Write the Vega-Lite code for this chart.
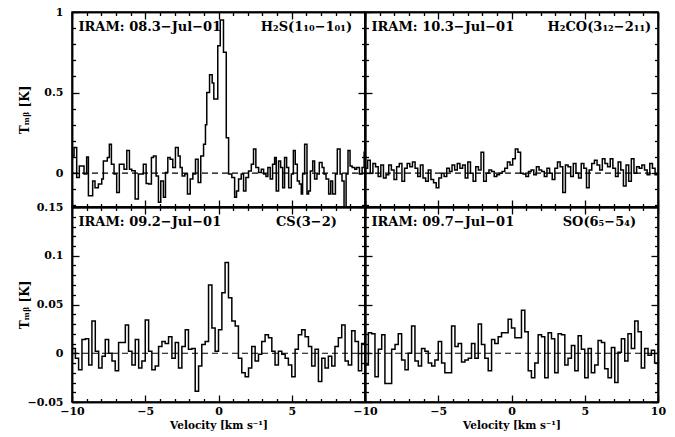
{
  "$schema": "https://vega.github.io/schema/vega-lite/v6.json",
  "padding": {"left": 17, "top": 5, "right": 5, "bottom": 5},
  "config": {
    "view": {"stroke": "black", "strokeWidth": 1.5},
    "axis": {"grid": false, "domainColor": "black", "domainWidth": 1.5, "tickColor": "black", "tickWidth": 1.3,
      "labelFont": "DejaVu Serif", "labelFontWeight": "bold", "labelFontSize": 11, "labelColor": "black",
      "labelFlush": false, "labelOverlap": false, "labelBound": false,
      "titleFont": "DejaVu Serif", "titleFontWeight": "bold", "titleFontSize": 10.5, "titleColor": "black"},
    "text": {"font": "DejaVu Serif", "fontWeight": "bold", "fontSize": 13, "color": "black"}
  },
  "datasets": {
    "h2s": [
      {"v": -10.0, "T": 0.107}, {"v": -9.86, "T": 0.159}, {"v": -9.68, "T": -0.027}, {"v": -9.5, "T": 0.045},
      {"v": -9.18, "T": -0.006}, {"v": -9.0, "T": 0.1}, {"v": -8.88, "T": -0.14}, {"v": -8.59, "T": -0.048},
      {"v": -8.43, "T": -0.09}, {"v": -8.2, "T": -0.068}, {"v": -7.97, "T": -0.036}, {"v": -7.86, "T": 0.076},
      {"v": -7.59, "T": 0.097}, {"v": -7.45, "T": 0.18}, {"v": -7.31, "T": 0.056}, {"v": -7.13, "T": -0.006},
      {"v": -6.95, "T": -0.12}, {"v": -6.77, "T": 0.056}, {"v": -6.45, "T": 0.025}, {"v": -6.26, "T": 0.14},
      {"v": -6.08, "T": 0.025}, {"v": -5.92, "T": 0.015}, {"v": -5.69, "T": -0.16}, {"v": -5.47, "T": -0.006},
      {"v": -5.13, "T": 0.056}, {"v": -4.94, "T": -0.064}, {"v": -4.76, "T": -0.068}, {"v": -4.58, "T": 0.097},
      {"v": -4.44, "T": 0.107}, {"v": -4.26, "T": -0.017}, {"v": -4.1, "T": -0.18}, {"v": -3.94, "T": -0.048},
      {"v": -3.76, "T": -0.15}, {"v": -3.62, "T": 0.004}, {"v": -3.46, "T": 0.097}, {"v": -3.3, "T": 0.087},
      {"v": -3.12, "T": 0.035}, {"v": -2.94, "T": 0.159}, {"v": -2.75, "T": 0.107}, {"v": -2.62, "T": 0.035},
      {"v": -2.48, "T": -0.017}, {"v": -2.3, "T": -0.006}, {"v": -2.12, "T": -0.13}, {"v": -1.93, "T": -0.037},
      {"v": -1.75, "T": -0.006}, {"v": -1.57, "T": 0.087}, {"v": -1.39, "T": -0.058}, {"v": -1.21, "T": 0.107},
      {"v": -1.02, "T": 0.18}, {"v": -0.89, "T": 0.3}, {"v": -0.8, "T": 0.5}, {"v": -0.61, "T": 0.61},
      {"v": -0.43, "T": 0.56}, {"v": -0.32, "T": 0.46}, {"v": -0.05, "T": 0.79}, {"v": 0.12, "T": 0.95},
      {"v": 0.34, "T": 0.75}, {"v": 0.53, "T": 0.22}, {"v": 0.69, "T": -0.006}, {"v": 0.91, "T": -0.027},
      {"v": 1.1, "T": -0.15}, {"v": 1.23, "T": -0.11}, {"v": 1.37, "T": -0.037}, {"v": 1.55, "T": -0.006},
      {"v": 1.71, "T": -0.11}, {"v": 1.87, "T": -0.027}, {"v": 2.05, "T": 0.014}, {"v": 2.24, "T": 0.056},
      {"v": 2.39, "T": 0.15}, {"v": 2.55, "T": 0.035}, {"v": 2.74, "T": 0.004}, {"v": 2.92, "T": 0.025},
      {"v": 3.08, "T": -0.006}, {"v": 3.24, "T": -0.02}, {"v": 3.37, "T": 0.035}, {"v": 3.53, "T": -0.037},
      {"v": 3.69, "T": 0.056}, {"v": 3.83, "T": 0.097}, {"v": 3.94, "T": -0.11}, {"v": 4.1, "T": 0.076},
      {"v": 4.24, "T": 0.035}, {"v": 4.38, "T": -0.09}, {"v": 4.51, "T": 0.097}, {"v": 4.65, "T": 0.035},
      {"v": 4.79, "T": -0.09}, {"v": 4.97, "T": -0.006}, {"v": 5.11, "T": 0.14}, {"v": 5.24, "T": 0.056},
      {"v": 5.38, "T": -0.048}, {"v": 5.52, "T": -0.068}, {"v": 5.65, "T": -0.13}, {"v": 5.74, "T": -0.006},
      {"v": 5.88, "T": 0.18}, {"v": 6.04, "T": -0.13}, {"v": 6.15, "T": -0.11}, {"v": 6.27, "T": 0.014},
      {"v": 6.43, "T": 0.076}, {"v": 6.56, "T": -0.037}, {"v": 6.72, "T": -0.006}, {"v": 6.88, "T": 0.066},
      {"v": 7.07, "T": 0.035}, {"v": 7.2, "T": -0.006}, {"v": 7.34, "T": -0.037}, {"v": 7.52, "T": -0.13},
      {"v": 7.66, "T": -0.048}, {"v": 7.79, "T": -0.13}, {"v": 7.98, "T": -0.006}, {"v": 8.11, "T": 0.15},
      {"v": 8.3, "T": -0.006}, {"v": 8.43, "T": -0.048}, {"v": 8.57, "T": -0.22}, {"v": 8.71, "T": -0.006},
      {"v": 8.84, "T": 0.14}, {"v": 8.98, "T": 0.045}, {"v": 9.12, "T": 0.035}, {"v": 9.3, "T": 0.025},
      {"v": 9.43, "T": 0.035}, {"v": 9.62, "T": -0.006}, {"v": 9.8, "T": 0.035}, {"v": 9.94, "T": 0.13},
      {"v": 10.0, "T": 0.13}
    ],
    "h2co": [
      {"v": -10.0, "T": 0.03}, {"v": -9.82, "T": 0.08}, {"v": -9.64, "T": 0.0}, {"v": -9.46, "T": 0.06},
      {"v": -9.28, "T": 0.04}, {"v": -9.1, "T": -0.02}, {"v": -8.92, "T": 0.05}, {"v": -8.74, "T": -0.03},
      {"v": -8.56, "T": -0.01}, {"v": -8.38, "T": 0.05}, {"v": -8.2, "T": 0.02}, {"v": -8.02, "T": -0.04},
      {"v": -7.84, "T": 0.04}, {"v": -7.66, "T": 0.06}, {"v": -7.48, "T": -0.05}, {"v": -7.3, "T": 0.03},
      {"v": -7.12, "T": 0.06}, {"v": -6.94, "T": 0.04}, {"v": -6.76, "T": 0.07}, {"v": -6.58, "T": 0.03},
      {"v": -6.4, "T": -0.02}, {"v": -6.22, "T": 0.05}, {"v": -6.04, "T": -0.03}, {"v": -5.86, "T": -0.05},
      {"v": -5.68, "T": 0.02}, {"v": -5.5, "T": -0.04}, {"v": -5.32, "T": -0.06}, {"v": -5.14, "T": -0.09},
      {"v": -4.96, "T": -0.03}, {"v": -4.78, "T": 0.0}, {"v": -4.6, "T": -0.02}, {"v": -4.42, "T": 0.03},
      {"v": -4.24, "T": 0.01}, {"v": -4.06, "T": 0.05}, {"v": -3.88, "T": 0.02}, {"v": -3.7, "T": 0.06},
      {"v": -3.52, "T": 0.03}, {"v": -3.34, "T": 0.05}, {"v": -3.16, "T": -0.03}, {"v": -2.98, "T": 0.07},
      {"v": -2.8, "T": 0.0}, {"v": -2.62, "T": -0.05}, {"v": -2.44, "T": 0.04}, {"v": -2.26, "T": 0.02},
      {"v": -2.08, "T": 0.13}, {"v": -1.9, "T": -0.05}, {"v": -1.72, "T": 0.0}, {"v": -1.54, "T": 0.02},
      {"v": -1.36, "T": 0.01}, {"v": -1.18, "T": -0.02}, {"v": -1.0, "T": -0.01}, {"v": -0.82, "T": 0.0},
      {"v": -0.64, "T": 0.01}, {"v": -0.46, "T": 0.03}, {"v": -0.28, "T": 0.07}, {"v": -0.1, "T": 0.05},
      {"v": 0.08, "T": 0.09}, {"v": 0.26, "T": 0.15}, {"v": 0.44, "T": 0.13}, {"v": 0.62, "T": 0.0},
      {"v": 0.8, "T": -0.005}, {"v": 0.98, "T": -0.02}, {"v": 1.16, "T": 0.01}, {"v": 1.34, "T": 0.02},
      {"v": 1.52, "T": -0.01}, {"v": 1.7, "T": 0.04}, {"v": 1.88, "T": 0.02}, {"v": 2.06, "T": 0.01},
      {"v": 2.24, "T": -0.02}, {"v": 2.42, "T": 0.03}, {"v": 2.6, "T": 0.0}, {"v": 2.78, "T": -0.04},
      {"v": 2.96, "T": 0.03}, {"v": 3.14, "T": 0.07}, {"v": 3.32, "T": 0.04}, {"v": 3.5, "T": -0.12},
      {"v": 3.68, "T": 0.05}, {"v": 3.86, "T": 0.04}, {"v": 4.04, "T": -0.02}, {"v": 4.22, "T": 0.06},
      {"v": 4.4, "T": 0.0}, {"v": 4.58, "T": -0.03}, {"v": 4.76, "T": 0.06}, {"v": 4.94, "T": 0.03},
      {"v": 5.12, "T": -0.09}, {"v": 5.3, "T": 0.02}, {"v": 5.48, "T": 0.06}, {"v": 5.66, "T": 0.08},
      {"v": 5.84, "T": 0.05}, {"v": 6.02, "T": 0.02}, {"v": 6.2, "T": 0.09}, {"v": 6.38, "T": 0.06},
      {"v": 6.56, "T": 0.04}, {"v": 6.74, "T": 0.09}, {"v": 6.92, "T": 0.03}, {"v": 7.1, "T": -0.02},
      {"v": 7.28, "T": 0.07}, {"v": 7.46, "T": 0.02}, {"v": 7.64, "T": -0.08}, {"v": 7.82, "T": 0.05},
      {"v": 8.0, "T": -0.05}, {"v": 8.18, "T": 0.09}, {"v": 8.36, "T": 0.0}, {"v": 8.54, "T": 0.04},
      {"v": 8.72, "T": 0.03}, {"v": 8.9, "T": 0.05}, {"v": 9.08, "T": 0.02}, {"v": 9.26, "T": -0.01},
      {"v": 9.44, "T": 0.06}, {"v": 9.62, "T": 0.03}, {"v": 9.8, "T": -0.01}, {"v": 10.0, "T": -0.01}
    ],
    "cs": [
      {"v": -10.0, "T": 0.005}, {"v": -9.77, "T": -0.005}, {"v": -9.55, "T": -0.017}, {"v": -9.32, "T": 0.014},
      {"v": -9.09, "T": 0.015}, {"v": -8.86, "T": -0.012}, {"v": -8.64, "T": 0.033}, {"v": -8.41, "T": 0.002},
      {"v": -8.18, "T": -0.015}, {"v": -7.95, "T": -0.003}, {"v": -7.73, "T": 0.014}, {"v": -7.5, "T": 0.0},
      {"v": -7.27, "T": -0.008}, {"v": -7.05, "T": -0.018}, {"v": -6.82, "T": 0.011}, {"v": -6.59, "T": 0.011},
      {"v": -6.36, "T": 0.029}, {"v": -6.14, "T": 0.002}, {"v": -5.91, "T": -0.012}, {"v": -5.68, "T": 0.014},
      {"v": -5.45, "T": -0.015}, {"v": -5.23, "T": -0.008}, {"v": -5.0, "T": 0.034}, {"v": -4.77, "T": 0.002},
      {"v": -4.55, "T": -0.017}, {"v": -4.32, "T": -0.013}, {"v": -4.09, "T": 0.007}, {"v": -3.86, "T": 0.012},
      {"v": -3.64, "T": 0.01}, {"v": -3.41, "T": 0.017}, {"v": -3.18, "T": -0.005}, {"v": -2.95, "T": 0.011},
      {"v": -2.73, "T": -0.015}, {"v": -2.5, "T": 0.007}, {"v": -2.27, "T": 0.024}, {"v": -2.05, "T": 0.004},
      {"v": -1.82, "T": 0.005}, {"v": -1.59, "T": -0.039}, {"v": -1.36, "T": -0.013}, {"v": -1.14, "T": 0.009},
      {"v": -0.91, "T": 0.012}, {"v": -0.68, "T": 0.07}, {"v": -0.45, "T": 0.026}, {"v": -0.23, "T": 0.002},
      {"v": 0.0, "T": 0.024}, {"v": 0.23, "T": 0.062}, {"v": 0.45, "T": 0.093}, {"v": 0.68, "T": 0.057},
      {"v": 0.91, "T": 0.033}, {"v": 1.14, "T": 0.028}, {"v": 1.36, "T": -0.005}, {"v": 1.59, "T": -0.02},
      {"v": 1.82, "T": -0.024}, {"v": 2.05, "T": -0.015}, {"v": 2.27, "T": 0.007}, {"v": 2.5, "T": -0.008},
      {"v": 2.73, "T": -0.001}, {"v": 2.95, "T": 0.012}, {"v": 3.18, "T": 0.019}, {"v": 3.41, "T": 0.016},
      {"v": 3.64, "T": 0.002}, {"v": 3.86, "T": -0.012}, {"v": 4.09, "T": 0.002}, {"v": 4.32, "T": -0.001},
      {"v": 4.55, "T": -0.005}, {"v": 4.77, "T": -0.012}, {"v": 5.0, "T": -0.024}, {"v": 5.23, "T": 0.004},
      {"v": 5.45, "T": 0.019}, {"v": 5.68, "T": 0.024}, {"v": 5.91, "T": 0.017}, {"v": 6.14, "T": 0.007},
      {"v": 6.36, "T": -0.013}, {"v": 6.59, "T": 0.004}, {"v": 6.82, "T": -0.029}, {"v": 7.05, "T": -0.005},
      {"v": 7.27, "T": -0.015}, {"v": 7.5, "T": -0.003}, {"v": 7.73, "T": -0.013}, {"v": 7.95, "T": 0.007},
      {"v": 8.18, "T": 0.016}, {"v": 8.41, "T": 0.029}, {"v": 8.64, "T": -0.008}, {"v": 8.86, "T": -0.012},
      {"v": 9.09, "T": 0.023}, {"v": 9.32, "T": 0.012}, {"v": 9.55, "T": -0.018}, {"v": 9.77, "T": 0.01},
      {"v": 10.0, "T": 0.01}
    ],
    "so": [
      {"v": -10.0, "T": -0.012}, {"v": -9.77, "T": 0.021}, {"v": -9.55, "T": 0.02}, {"v": -9.32, "T": -0.024},
      {"v": -9.09, "T": 0.004}, {"v": -8.86, "T": 0.019}, {"v": -8.64, "T": -0.031}, {"v": -8.41, "T": -0.031},
      {"v": -8.18, "T": 0.004}, {"v": -7.95, "T": 0.009}, {"v": -7.73, "T": 0.02}, {"v": -7.5, "T": -0.007},
      {"v": -7.27, "T": -0.017}, {"v": -7.05, "T": 0.0}, {"v": -6.82, "T": 0.028}, {"v": -6.59, "T": -0.008},
      {"v": -6.36, "T": -0.013}, {"v": -6.14, "T": 0.005}, {"v": -5.91, "T": 0.002}, {"v": -5.68, "T": -0.01},
      {"v": -5.45, "T": -0.013}, {"v": -5.23, "T": -0.007}, {"v": -5.0, "T": 0.012}, {"v": -4.77, "T": -0.01},
      {"v": -4.55, "T": -0.02}, {"v": -4.32, "T": -0.02}, {"v": -4.09, "T": 0.028}, {"v": -3.86, "T": 0.007},
      {"v": -3.64, "T": 0.01}, {"v": -3.41, "T": -0.009}, {"v": -3.18, "T": -0.007}, {"v": -2.95, "T": -0.005},
      {"v": -2.73, "T": 0.01}, {"v": -2.5, "T": -0.005}, {"v": -2.27, "T": 0.03}, {"v": -2.05, "T": 0.009},
      {"v": -1.82, "T": -0.005}, {"v": -1.59, "T": -0.018}, {"v": -1.36, "T": 0.014}, {"v": -1.14, "T": 0.01},
      {"v": -0.91, "T": 0.017}, {"v": -0.68, "T": 0.021}, {"v": -0.45, "T": 0.021}, {"v": -0.23, "T": 0.035},
      {"v": 0.0, "T": 0.026}, {"v": 0.23, "T": 0.016}, {"v": 0.45, "T": 0.016}, {"v": 0.68, "T": 0.044},
      {"v": 0.91, "T": 0.022}, {"v": 1.14, "T": -0.018}, {"v": 1.36, "T": -0.025}, {"v": 1.59, "T": -0.01},
      {"v": 1.82, "T": 0.019}, {"v": 2.05, "T": 0.017}, {"v": 2.27, "T": -0.025}, {"v": 2.5, "T": 0.021},
      {"v": 2.73, "T": 0.015}, {"v": 2.95, "T": -0.02}, {"v": 3.18, "T": 0.02}, {"v": 3.41, "T": 0.019},
      {"v": 3.64, "T": -0.012}, {"v": 3.86, "T": -0.005}, {"v": 4.09, "T": 0.008}, {"v": 4.32, "T": -0.018},
      {"v": 4.55, "T": 0.018}, {"v": 4.77, "T": 0.004}, {"v": 5.0, "T": -0.025}, {"v": 5.23, "T": 0.005},
      {"v": 5.45, "T": -0.02}, {"v": 5.68, "T": -0.012}, {"v": 5.91, "T": 0.013}, {"v": 6.14, "T": 0.011},
      {"v": 6.36, "T": -0.016}, {"v": 6.59, "T": -0.025}, {"v": 6.82, "T": 0.006}, {"v": 7.05, "T": -0.03},
      {"v": 7.27, "T": 0.001}, {"v": 7.5, "T": 0.015}, {"v": 7.73, "T": -0.008}, {"v": 7.95, "T": 0.02},
      {"v": 8.18, "T": 0.005}, {"v": 8.41, "T": 0.033}, {"v": 8.64, "T": 0.022}, {"v": 8.86, "T": -0.015},
      {"v": 9.09, "T": 0.005}, {"v": 9.32, "T": -0.002}, {"v": 9.55, "T": 0.003}, {"v": 9.77, "T": -0.01},
      {"v": 10.0, "T": -0.01}
    ]
  },
  "columns": 2,
  "spacing": 0,
  "bounds": "flush",
  "concat": [
    {
      "width": 293, "height": 195,
      "layer": [
        {"data": {"name": "h2s"},
         "mark": {"type": "line", "interpolate": "step-after", "color": "black", "strokeWidth": 1.5, "clip": true},
         "encoding": {
           "x": {"field": "v", "type": "quantitative", "scale": {"domain": [-10, 10], "nice": false, "zero": false},
                 "axis": {"orient": "bottom", "values": [-10, -5, 0, 5, 10], "labels": false, "title": null, "tickSize": -7}},
           "y": {"field": "T", "type": "quantitative", "scale": {"domain": [-0.21, 1], "nice": false, "zero": false},
                 "axis": {"orient": "left", "values": [0, 0.5, 1], "format": ".1~f", "title": "Tₘᵦ [K]", "titleFontSize": 12, "titlePadding": 5, "minExtent": 36, "maxExtent": 36, "tickSize": -7, "labelPadding": 16}}}},
        {"data": {"values": [{}]},
         "mark": {"type": "rule", "color": "black", "strokeWidth": 1.2, "strokeDash": [6, 4]},
         "encoding": {
           "x": {"datum": -10, "type": "quantitative", "axis": {"orient": "bottom", "values": [-9, -8, -7, -6, -4, -3, -2, -1, 1, 2, 3, 4, 6, 7, 8, 9], "labels": false, "title": null, "tickSize": -3.5}},
           "x2": {"datum": 10},
           "y": {"datum": 0, "type": "quantitative", "axis": {"orient": "left", "values": [-0.2, -0.1, 0.1, 0.2, 0.3, 0.4, 0.6, 0.7, 0.8, 0.9], "labels": false, "title": null, "tickSize": -3.5}}}},
        {"data": {"values": [{}]},
         "mark": {"type": "text", "align": "left", "baseline": "middle"},
         "encoding": {
           "text": {"value": "IRAM: 08.3−Jul−01"},
           "x": {"datum": -9.56, "type": "quantitative", "axis": {"orient": "top", "values": [-10, -5, 0, 5, 10], "labels": false, "title": null, "tickSize": -7}},
           "y": {"datum": 0.907, "type": "quantitative", "axis": {"orient": "right", "values": [0, 0.5, 1], "labels": false, "title": null, "tickSize": -7}}}},
        {"data": {"values": [{}]},
         "mark": {"type": "text", "align": "center", "baseline": "middle"},
         "encoding": {
           "text": {"value": "H₂S(1₁₀−1₀₁)"},
           "x": {"datum": 6.0, "type": "quantitative", "axis": {"orient": "top", "values": [-9, -8, -7, -6, -4, -3, -2, -1, 1, 2, 3, 4, 6, 7, 8, 9], "labels": false, "title": null, "tickSize": -3.5}},
           "y": {"datum": 0.907, "type": "quantitative", "axis": {"orient": "right", "values": [-0.2, -0.1, 0.1, 0.2, 0.3, 0.4, 0.6, 0.7, 0.8, 0.9], "labels": false, "title": null, "tickSize": -3.5}}}}
      ],
      "resolve": {"axis": {"x": "independent", "y": "independent"}}
    },
    {
      "width": 293, "height": 195,
      "layer": [
        {"data": {"name": "h2co"},
         "mark": {"type": "line", "interpolate": "step-after", "color": "black", "strokeWidth": 1.5, "clip": true},
         "encoding": {
           "x": {"field": "v", "type": "quantitative", "scale": {"domain": [-10, 10], "nice": false, "zero": false},
                 "axis": {"orient": "bottom", "values": [-10, -5, 0, 5, 10], "labels": false, "title": null, "tickSize": -7}},
           "y": {"field": "T", "type": "quantitative", "scale": {"domain": [-0.21, 1], "nice": false, "zero": false},
                 "axis": {"orient": "left", "values": [0, 0.5, 1], "labels": false, "title": null, "tickSize": -7}}}},
        {"data": {"values": [{}]},
         "mark": {"type": "rule", "color": "black", "strokeWidth": 1.2, "strokeDash": [6, 4]},
         "encoding": {
           "x": {"datum": -10, "type": "quantitative", "axis": {"orient": "bottom", "values": [-9, -8, -7, -6, -4, -3, -2, -1, 1, 2, 3, 4, 6, 7, 8, 9], "labels": false, "title": null, "tickSize": -3.5}},
           "x2": {"datum": 10},
           "y": {"datum": 0, "type": "quantitative", "axis": {"orient": "left", "values": [-0.2, -0.1, 0.1, 0.2, 0.3, 0.4, 0.6, 0.7, 0.8, 0.9], "labels": false, "title": null, "tickSize": -3.5}}}},
        {"data": {"values": [{}]},
         "mark": {"type": "text", "align": "left", "baseline": "middle"},
         "encoding": {
           "text": {"value": "IRAM: 10.3−Jul−01"},
           "x": {"datum": -9.56, "type": "quantitative", "axis": {"orient": "top", "values": [-10, -5, 0, 5, 10], "labels": false, "title": null, "tickSize": -7}},
           "y": {"datum": 0.907, "type": "quantitative", "axis": {"orient": "right", "values": [0, 0.5, 1], "labels": false, "title": null, "tickSize": -7}}}},
        {"data": {"values": [{}]},
         "mark": {"type": "text", "align": "center", "baseline": "middle"},
         "encoding": {
           "text": {"value": "H₂CO(3₁₂−2₁₁)"},
           "x": {"datum": 6.0, "type": "quantitative", "axis": {"orient": "top", "values": [-9, -8, -7, -6, -4, -3, -2, -1, 1, 2, 3, 4, 6, 7, 8, 9], "labels": false, "title": null, "tickSize": -3.5}},
           "y": {"datum": 0.907, "type": "quantitative", "axis": {"orient": "right", "values": [-0.2, -0.1, 0.1, 0.2, 0.3, 0.4, 0.6, 0.7, 0.8, 0.9], "labels": false, "title": null, "tickSize": -3.5}}}}
      ],
      "resolve": {"axis": {"x": "independent", "y": "independent"}}
    },
    {
      "width": 293, "height": 195,
      "layer": [
        {"data": {"name": "cs"},
         "mark": {"type": "line", "interpolate": "step-after", "color": "black", "strokeWidth": 1.5, "clip": true},
         "encoding": {
           "x": {"field": "v", "type": "quantitative", "scale": {"domain": [-10, 10], "nice": false, "zero": false},
                 "axis": {"orient": "bottom", "values": [-10, -5, 0, 5], "format": "d", "title": "Velocity [km s⁻¹]", "tickSize": -7, "labelPadding": 10}},
           "y": {"field": "T", "type": "quantitative", "scale": {"domain": [-0.05, 0.15], "nice": false, "zero": false},
                 "axis": {"orient": "left", "values": [-0.05, 0, 0.05, 0.1, 0.15], "format": ".2~f", "title": "Tₘᵦ [K]", "titleFontSize": 12, "titlePadding": 5, "minExtent": 36, "maxExtent": 36, "tickSize": -7, "labelPadding": 16}}}},
        {"data": {"values": [{}]},
         "mark": {"type": "rule", "color": "black", "strokeWidth": 1.2, "strokeDash": [6, 4]},
         "encoding": {
           "x": {"datum": -10, "type": "quantitative", "axis": {"orient": "bottom", "values": [-9, -8, -7, -6, -4, -3, -2, -1, 1, 2, 3, 4, 6, 7, 8, 9], "labels": false, "title": null, "tickSize": -3.5}},
           "x2": {"datum": 10},
           "y": {"datum": 0, "type": "quantitative", "axis": {"orient": "left", "values": [-0.04, -0.03, -0.02, -0.01, 0.01, 0.02, 0.03, 0.04, 0.06, 0.07, 0.08, 0.09, 0.11, 0.12, 0.13, 0.14], "labels": false, "title": null, "tickSize": -3.5}}}},
        {"data": {"values": [{}]},
         "mark": {"type": "text", "align": "left", "baseline": "middle"},
         "encoding": {
           "text": {"value": "IRAM: 09.2−Jul−01"},
           "x": {"datum": -9.56, "type": "quantitative", "axis": {"orient": "top", "values": [-10, -5, 0, 5, 10], "labels": false, "title": null, "tickSize": -7}},
           "y": {"datum": 0.1346, "type": "quantitative", "axis": {"orient": "right", "values": [-0.05, 0, 0.05, 0.1, 0.15], "labels": false, "title": null, "tickSize": -7}}}},
        {"data": {"values": [{}]},
         "mark": {"type": "text", "align": "center", "baseline": "middle"},
         "encoding": {
           "text": {"value": "CS(3−2)"},
           "x": {"datum": 6.0, "type": "quantitative", "axis": {"orient": "top", "values": [-9, -8, -7, -6, -4, -3, -2, -1, 1, 2, 3, 4, 6, 7, 8, 9], "labels": false, "title": null, "tickSize": -3.5}},
           "y": {"datum": 0.1346, "type": "quantitative", "axis": {"orient": "right", "values": [-0.04, -0.03, -0.02, -0.01, 0.01, 0.02, 0.03, 0.04, 0.06, 0.07, 0.08, 0.09, 0.11, 0.12, 0.13, 0.14], "labels": false, "title": null, "tickSize": -3.5}}}}
      ],
      "resolve": {"axis": {"x": "independent", "y": "independent"}}
    },
    {
      "width": 293, "height": 195,
      "layer": [
        {"data": {"name": "so"},
         "mark": {"type": "line", "interpolate": "step-after", "color": "black", "strokeWidth": 1.5, "clip": true},
         "encoding": {
           "x": {"field": "v", "type": "quantitative", "scale": {"domain": [-10, 10], "nice": false, "zero": false},
                 "axis": {"orient": "bottom", "values": [-10, -5, 0, 5, 10], "format": "d", "title": "Velocity [km s⁻¹]", "tickSize": -7, "labelPadding": 10}},
           "y": {"field": "T", "type": "quantitative", "scale": {"domain": [-0.05, 0.15], "nice": false, "zero": false},
                 "axis": {"orient": "left", "values": [-0.05, 0, 0.05, 0.1, 0.15], "labels": false, "title": null, "tickSize": -7}}}},
        {"data": {"values": [{}]},
         "mark": {"type": "rule", "color": "black", "strokeWidth": 1.2, "strokeDash": [6, 4]},
         "encoding": {
           "x": {"datum": -10, "type": "quantitative", "axis": {"orient": "bottom", "values": [-9, -8, -7, -6, -4, -3, -2, -1, 1, 2, 3, 4, 6, 7, 8, 9], "labels": false, "title": null, "tickSize": -3.5}},
           "x2": {"datum": 10},
           "y": {"datum": 0, "type": "quantitative", "axis": {"orient": "left", "values": [-0.04, -0.03, -0.02, -0.01, 0.01, 0.02, 0.03, 0.04, 0.06, 0.07, 0.08, 0.09, 0.11, 0.12, 0.13, 0.14], "labels": false, "title": null, "tickSize": -3.5}}}},
        {"data": {"values": [{}]},
         "mark": {"type": "text", "align": "left", "baseline": "middle"},
         "encoding": {
           "text": {"value": "IRAM: 09.7−Jul−01"},
           "x": {"datum": -9.56, "type": "quantitative", "axis": {"orient": "top", "values": [-10, -5, 0, 5, 10], "labels": false, "title": null, "tickSize": -7}},
           "y": {"datum": 0.1346, "type": "quantitative", "axis": {"orient": "right", "values": [-0.05, 0, 0.05, 0.1, 0.15], "labels": false, "title": null, "tickSize": -7}}}},
        {"data": {"values": [{}]},
         "mark": {"type": "text", "align": "center", "baseline": "middle"},
         "encoding": {
           "text": {"value": "SO(6₅−5₄)"},
           "x": {"datum": 6.0, "type": "quantitative", "axis": {"orient": "top", "values": [-9, -8, -7, -6, -4, -3, -2, -1, 1, 2, 3, 4, 6, 7, 8, 9], "labels": false, "title": null, "tickSize": -3.5}},
           "y": {"datum": 0.1346, "type": "quantitative", "axis": {"orient": "right", "values": [-0.04, -0.03, -0.02, -0.01, 0.01, 0.02, 0.03, 0.04, 0.06, 0.07, 0.08, 0.09, 0.11, 0.12, 0.13, 0.14], "labels": false, "title": null, "tickSize": -3.5}}}}
      ],
      "resolve": {"axis": {"x": "independent", "y": "independent"}}
    }
  ]
}
